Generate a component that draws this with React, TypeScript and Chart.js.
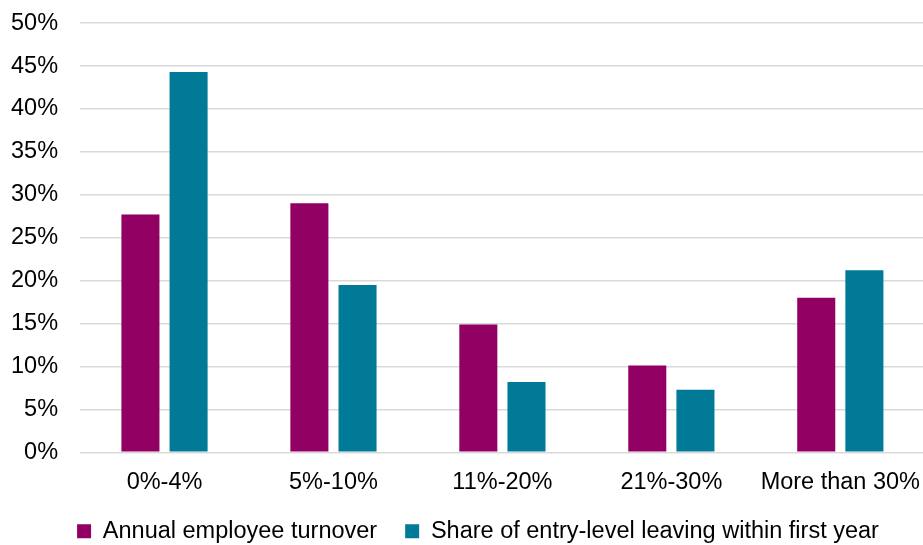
import React, { useEffect, useRef } from "react";
import { Chart, registerables } from "chart.js";

Chart.register(...registerables);

const categories = ["0%-4%", "5%-10%", "11%-20%", "21%-30%", "More than 30%"];
const annualTurnover = [27.7, 29.0, 14.9, 10.1, 18.0];
const entryLevelLeaving = [44.3, 19.5, 8.2, 7.3, 21.2];
const seriesNames = ["Annual employee turnover", "Share of entry-level leaving within first year"];

const CANVAS_TOP = -13;
const CANVAS_H = 579;
const CANVAS_W = 928;

const legendShift = {
  id: "legendShift",
  afterLayout(chart: any) {
    const lg = chart.legend;
    if (!lg) return;
    const center = (lg.left + lg.right) / 2;
    const dx = 478 - center;
    const dy = -13;
    lg.left += dx;
    lg.right += dx;
    lg.top += dy;
    lg.bottom += dy;
  },
};

export default function App() {
  const ref = useRef<HTMLCanvasElement | null>(null);
  useEffect(() => {
    if (!ref.current) return;
    const font = { family: "'Liberation Sans', Arial, sans-serif", size: 23.5 };
    const chart = new Chart(ref.current, {
      type: "bar",
      data: {
        labels: categories,
        datasets: [
          {
            label: seriesNames[0],
            data: annualTurnover,
            backgroundColor: "#910062",
            barPercentage: 0.79,
            categoryPercentage: 0.57,
          },
          {
            label: seriesNames[1],
            data: entryLevelLeaving,
            backgroundColor: "#007A96",
            barPercentage: 0.79,
            categoryPercentage: 0.57,
          },
        ],
      },
      plugins: [legendShift],
      options: {
        animation: false,
        responsive: false,
        maintainAspectRatio: false,
        layout: { padding: { top: 0, right: 0, left: -11, bottom: 0 } },
        plugins: {
          tooltip: { enabled: false },
          legend: {
            position: "bottom",
            labels: {
              font,
              color: "#000",
              boxWidth: 14,
              boxHeight: 14,
              padding: 28,
            },
          },
        },
        scales: {
          x: {
            grid: { display: false },
            border: { display: false },
            ticks: { font, color: "#000", padding: 8 },
          },
          y: {
            min: 0,
            max: 50,
            grid: { color: "#d9d9d9", lineWidth: 1.5, drawTicks: false },
            border: { display: false },
            ticks: {
              stepSize: 5,
              font,
              color: "#000",
              padding: 22,
              callback: (v: any) => v + "%",
            },
          },
        },
      },
    });
    return () => chart.destroy();
  }, []);
  return (
    <div style={{ position: "absolute", left: 0, top: 0, width: 923, height: 545, overflow: "hidden", background: "#fff" }}>
      <canvas ref={ref} width={CANVAS_W} height={CANVAS_H} style={{ position: "absolute", left: 0, top: CANVAS_TOP }} />
    </div>
  );
}
